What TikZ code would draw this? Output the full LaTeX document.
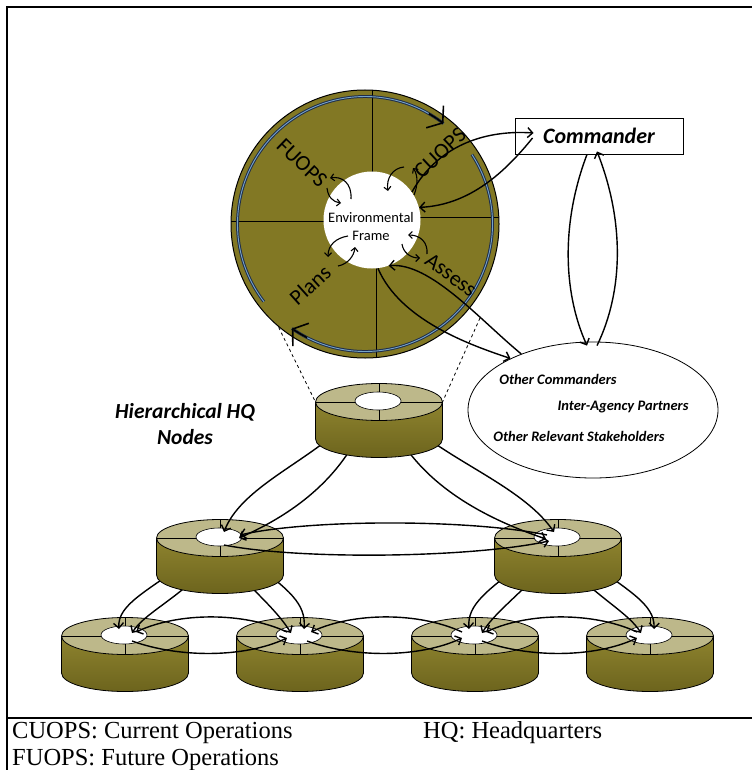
\documentclass[tikz,border=0pt]{standalone}
\usepackage{fontspec}
\setmainfont{Liberation Serif}
\newfontfamily\carl{Carlito}
\usetikzlibrary{arrows.meta,calc,shapes.geometric}
\definecolor{olivebig}{RGB}{130,120,36}
\definecolor{cyltop}{RGB}{189,184,138}
\definecolor{cylside}{RGB}{136,125,36}
\definecolor{ringblue}{RGB}{30,45,75}
\definecolor{ringlight}{RGB}{120,165,200}
\tikzset{
 pics/cyl/.style={code={
  \shade[top color=cylside!95!white, bottom color=cylside!80!black] (-63.5,0) -- (-63.5,37) arc[start angle=180,end angle=0,x radius=63.5,y radius=18.5] -- (63.5,0) arc[start angle=0,end angle=180,x radius=63.5,y radius=18.5] -- cycle;
  \draw[line width=0.8pt] (-63.5,0) -- (-63.5,37) arc[start angle=180,end angle=0,x radius=63.5,y radius=18.5] -- (63.5,0);
  \draw[line width=0.8pt, fill=cyltop] (0,0) ellipse[x radius=63.5,y radius=18.5];
  \draw[line width=0.7pt] (-63.5,0) -- (63.5,0) (0,-18.5) -- (0,18.5);
  \draw[line width=0.6pt, fill=white] (-1,-1) ellipse[x radius=23,y radius=9];
  \coordinate (-h) at (-1,-1);
 }}
}
\begin{document}
\begin{tikzpicture}[x=1pt,y=-1pt,
 ar/.style={line width=1.4pt, -{Straight Barb[length=5pt,width=10pt]}},
 sa/.style={line width=1.1pt, -{Straight Barb[length=3.5pt,width=7pt]}},
 lbl/.style={font=\carl\fontsize{22}{26}\selectfont, inner sep=0pt},
 bi/.style={font=\carl\bfseries\itshape\fontsize{14.5}{17}\selectfont, inner sep=0pt},
 chev/.style={line width=1.6pt, -{Straight Barb[length=10pt,width=28pt]}},
 ring/.style={draw=ringblue, line width=1pt, double=ringlight, double distance=0.9pt}]
\useasboundingbox (0,0) rectangle (752,770);
% frame
\draw[line width=1.4pt] (7,770) -- (7,7) -- (752,7);
\draw[line width=1.6pt] (7,718) -- (752,718);
% key coordinates
\coordinate (bc) at (365,224);
\coordinate (Ttl) at (315.5,402);
\coordinate (Ttr) at (442.5,402);
% dashed zoom lines
\draw[dashed, line width=0.8pt] (276,322) -- (Ttl);
\draw[dashed, line width=0.8pt] (480,318) -- (Ttr);
% big circle
\node[circle, draw, line width=1pt, fill=olivebig, minimum size=268pt, inner sep=0pt] (big) at (bc) {};
\draw[line width=0.8pt] (372.7,90.5) -- (372.7,224) (376.7,220) -- (376.7,357.5)
  (231,221.7) -- (372,221.7) (372,217.3) -- (498.8,217.3);
% ring
\draw[ring] ($(bc)+(142.5:127.5)$) arc[start angle=142.5,end angle=308,radius=127.5];
\draw[ring] ($(bc)+(-33:127.5)$) arc[start angle=-33,end angle=125,radius=127.5];
\draw[chev] ($(bc)+(300:127.5)$) arc[start angle=300,end angle=308,radius=127.5];
\draw[chev] ($(bc)+(117:127.5)$) arc[start angle=117,end angle=125,radius=127.5];
% labels
\node[lbl, rotate=-44] (fu) at (302,163) {FUOPS};
\node[lbl, rotate=43] (cu) at (440,153) {CUOPS};
\node[lbl, rotate=42] (pl) at (310,285) {Plans};
\node[lbl, rotate=-37] (as) at (451,275) {Assess};
% inner circle
\node[circle, fill=white, minimum size=97pt, inner sep=0pt] (ef) at (372,220) {};
\node[font=\carl\fontsize{14.5}{18}\selectfont, align=center, inner sep=0pt] (eft) at (371,227) {Environmental\\Frame};
\begin{scope}[shift={(ef.center)}]
\draw[sa] (-21,-21) .. controls (-20,-37) and (-30,-44) .. (-42,-42);
\draw[sa] (-45,-32) .. controls (-44,-23) and (-39,-18) .. (-31,-17);
\draw[sa] (32,-53) .. controls (21,-52) and (14,-42) .. (16,-29);
\draw[sa] (42,-25) .. controls (46,-35) and (46,-45) .. (41,-52);
\draw[sa] (-24,16) .. controls (-36,18) and (-44,25) .. (-44,37);
\draw[sa] (-34,46) .. controls (-24,44) and (-18,36) .. (-17,27);
\draw[sa] (55,34) .. controls (56,22) and (48,15) .. (36,15);
\draw[sa] (30,24) .. controls (31,32) and (38,38) .. (48,38);
\end{scope}
% commander
\node[draw, line width=0.9pt, fill=white, minimum width=168pt, minimum height=36pt, inner sep=0pt,
  font=\carl\bfseries\itshape\fontsize{22}{24}\selectfont] (cmd) at (599,136) {Commander};
% others ellipse
\node[ellipse, draw, line width=0.8pt, fill=white, minimum width=250pt, minimum height=136pt, inner sep=0pt] (oth) at (593,410) {};
\node[bi] (t1) at (558,379) {Other Commanders};
\node[bi] (t2) at (623,407) {Inter-Agency Partners};
\node[bi] (t3) at (579,436) {Other Relevant Stakeholders};
% big connectors
\draw[ar] (ef.35) .. controls (440,142) and (490,130) .. ($(cmd.west)+(19,-3)$);
\draw[ar] ($(cmd.west)+(18,2)$) .. controls (505,172) and (470,205) .. (ef.15);
\draw[ar] ($(cmd.south)+(-12,0)$) .. controls (562,220) and (562,290) .. ($(oth.north)+(-6,4)$);
\draw[ar] ($(oth.north)+(4,4)$) .. controls (624,290) and (624,220) .. ($(cmd.south)+(-2,-3)$);
\draw[ar] (ef.-83) .. controls (400,320) and (470,345) .. (oth.148);
\draw[ar] (oth.142) .. controls (480,320) and (430,262) .. (ef.-70);
% hierarchical label
\node[font=\carl\bfseries\itshape\fontsize{21.5}{26}\selectfont, align=center, inner sep=0pt] (hq) at (185,424) {Hierarchical HQ\\Nodes};
% bottom cylinders
\pic (B1) at (125,636) {cyl};
\pic (B2) at (300,636) {cyl};
\pic (B3) at (475,636) {cyl};
\pic (B4) at (650,636) {cyl};
% bottom horizontals
\draw[ar] ($(B2-h)+(-12,-3)$) .. controls (244,612) and (179,612) .. ($(B1-h)+(12,-3)$);
\draw[ar] ($(B1-h)+(8,6)$) .. controls (179,658) and (244,658) .. ($(B2-h)+(-12,3)$);
\draw[ar] ($(B3-h)+(-12,-3)$) .. controls (419,612) and (354,612) .. ($(B2-h)+(12,-3)$);
\draw[ar] ($(B2-h)+(8,6)$) .. controls (354,658) and (419,658) .. ($(B3-h)+(-12,3)$);
\draw[ar] ($(B4-h)+(-12,-3)$) .. controls (594,612) and (529,612) .. ($(B3-h)+(12,-3)$);
\draw[ar] ($(B3-h)+(8,6)$) .. controls (529,658) and (594,658) .. ($(B4-h)+(-12,3)$);
% mid hole coordinates
\coordinate (Lh) at (219,537);
\coordinate (Rh) at (557,537);
% mid -> bottom
\draw[ar] ($(Lh)+(-30,23)$) .. controls (150,590) and (117,604) .. ($(B1-h)+(-5,-6)$);
\draw[ar] ($(Lh)+(-15,33)$) .. controls (175,600) and (144,614) .. ($(B1-h)+(8,-2)$);
\draw[ar] ($(Lh)+(30,23)$) .. controls (290,590) and (306,604) .. ($(B2-h)+(5,-6)$);
\draw[ar] ($(Lh)+(15,33)$) .. controls (264,600) and (279,614) .. ($(B2-h)+(-8,-2)$);
\draw[ar] ($(Rh)+(-30,23)$) .. controls (488,590) and (467,604) .. ($(B3-h)+(-5,-6)$);
\draw[ar] ($(Rh)+(-15,33)$) .. controls (513,600) and (494,614) .. ($(B3-h)+(8,-2)$);
\draw[ar] ($(Rh)+(30,23)$) .. controls (627,590) and (655,604) .. ($(B4-h)+(5,-6)$);
\draw[ar] ($(Rh)+(15,33)$) .. controls (602,600) and (629,614) .. ($(B4-h)+(-8,-2)$);
% mid cylinders
\pic (L) at (220,538) {cyl};
\pic (R) at (558,538) {cyl};
% mid horizontals
\draw[ar] ($(R-h)+(-10,-2)$) .. controls (470,519) and (310,519) .. ($(L-h)+(21,-2)$);
\draw[ar] ($(L-h)+(5,8)$) .. controls (300,560) and (470,558) .. ($(R-h)+(-8,4)$);
% top -> mid
\coordinate (Th) at (378,401);
\draw[ar] ($(Th)+(-40,30)$) .. controls (300,465) and (240,490) .. ($(L-h)+(5,-5)$);
\draw[ar] ($(Th)+(-20,35)$) .. controls (330,490) and (280,520) .. ($(L-h)+(20,1)$);
\draw[ar] ($(Th)+(40,30)$) .. controls (460,465) and (525,490) .. ($(R-h)+(-3,-5)$);
\draw[ar] ($(Th)+(20,35)$) .. controls (430,490) and (490,520) .. ($(R-h)+(-11,2)$);
% top cylinder
\pic (T) at (379,402) {cyl};
% caption
\node[anchor=west, font=\fontsize{24.5}{28}\selectfont, inner sep=0pt] (c1) at (12,733) {CUOPS: Current Operations};
\node[anchor=west, font=\fontsize{24.5}{28}\selectfont, inner sep=0pt] (c2) at (423,733) {HQ: Headquarters};
\node[anchor=west, font=\fontsize{24.5}{28}\selectfont, inner sep=0pt] (c3) at (12,760) {FUOPS: Future Operations};
\end{tikzpicture}
\end{document}
